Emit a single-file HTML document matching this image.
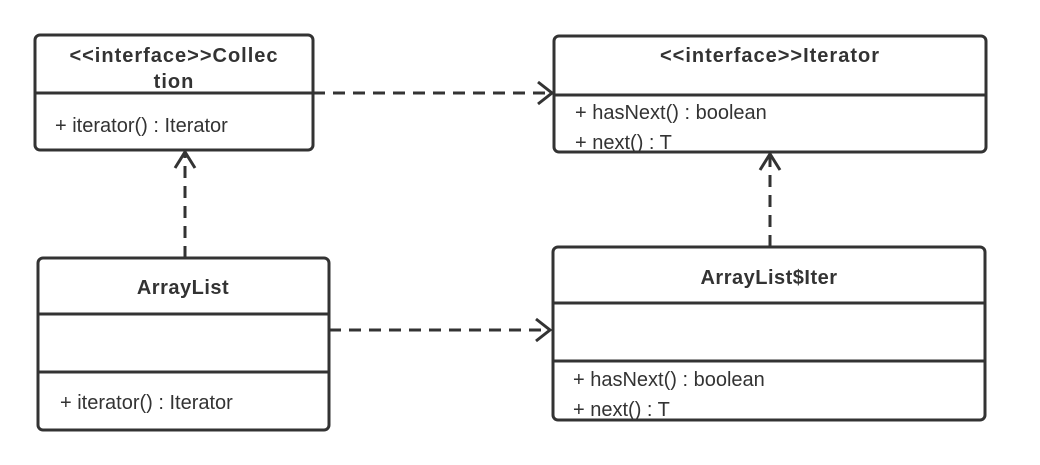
<!DOCTYPE html>
<html><head><style>body{margin:0;background:#fff}svg{display:block}text{font-family:"Liberation Sans",sans-serif;fill:#333}</style></head>
<body>
<svg width="1040" height="465" viewBox="0 0 1040 465">
<g fill="none" stroke="#333" stroke-width="3">
<rect x="35" y="35" width="278" height="115" rx="5" fill="#fff"/>
<line x1="35" y1="93" x2="313" y2="93"/>
<rect x="554" y="36" width="432" height="116" rx="5" fill="#fff"/>
<line x1="554" y1="95" x2="986" y2="95"/>
<rect x="38" y="258" width="291" height="172" rx="5" fill="#fff"/>
<line x1="38" y1="314" x2="329" y2="314"/>
<line x1="38" y1="372" x2="329" y2="372"/>
<rect x="553" y="247" width="432" height="173" rx="5" fill="#fff"/>
<line x1="553" y1="303" x2="985" y2="303"/>
<line x1="553" y1="361" x2="985" y2="361"/>
<g stroke-dasharray="12,8">
<line x1="313" y1="93" x2="550" y2="93"/>
<line x1="329" y1="330" x2="548" y2="330"/>
<line x1="185" y1="258" x2="185" y2="155"/>
<line x1="770" y1="247" x2="770" y2="157"/>
</g>
<polyline points="538,82 552,93 538,104"/>
<polyline points="536,319 550,330 536,341"/>
<polyline points="175,168 185,152 195,168"/>
<polyline points="760,170 770,154 780,170"/>
</g>
<g font-size="20">
<text x="174" y="62" text-anchor="middle" font-weight="bold" letter-spacing="1">&lt;&lt;interface&gt;&gt;Collec</text>
<text x="174" y="88" text-anchor="middle" font-weight="bold" letter-spacing="1">tion</text>
<text x="55" y="132">+ iterator() : Iterator</text>
<text x="770" y="62" text-anchor="middle" font-weight="bold" letter-spacing="1">&lt;&lt;interface&gt;&gt;Iterator</text>
<text x="575" y="119">+ hasNext() : boolean</text>
<text x="575" y="149">+ next() : T</text>
<text x="183" y="294" text-anchor="middle" font-weight="bold" letter-spacing="0.5">ArrayList</text>
<text x="60" y="409">+ iterator() : Iterator</text>
<text x="769" y="284" text-anchor="middle" font-weight="bold" letter-spacing="0.5">ArrayList$Iter</text>
<text x="573" y="386">+ hasNext() : boolean</text>
<text x="573" y="416">+ next() : T</text>
</g>
</svg>
</body></html>
